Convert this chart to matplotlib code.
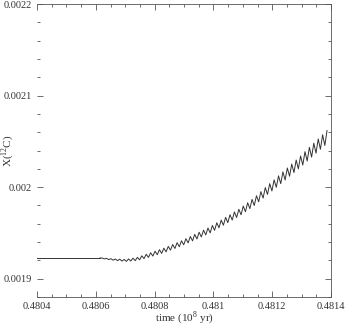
import matplotlib
matplotlib.use("Agg")
import matplotlib.pyplot as plt
from matplotlib.ticker import MultipleLocator, FixedLocator

# ---- data (time in 1e8 yr, X(12C) in units of 1e-6) ----
flat_time = [0.4804, 0.480614]
flat_x = [1922.6, 1922.6]

osc_time = [
    0.4806140, 0.4806215, 0.4806290, 0.4806365, 0.4806440, 0.4806515, 0.4806590, 0.4806665,
    0.4806740, 0.4806815, 0.4806890, 0.4806965, 0.4807040, 0.4807115, 0.4807190, 0.4807265,
    0.4807340, 0.4807415, 0.4807490, 0.4807565, 0.4807640, 0.4807715, 0.4807790, 0.4807865,
    0.4807940, 0.4808015, 0.4808090, 0.4808165, 0.4808240, 0.4808315, 0.4808390, 0.4808465,
    0.4808540, 0.4808615, 0.4808690, 0.4808765, 0.4808840, 0.4808915, 0.4808990, 0.4809065,
    0.4809140, 0.4809215, 0.4809290, 0.4809365, 0.4809440, 0.4809515, 0.4809590, 0.4809665,
    0.4809740, 0.4809815, 0.4809890, 0.4809965, 0.4810040, 0.4810115, 0.4810190, 0.4810265,
    0.4810340, 0.4810415, 0.4810490, 0.4810565, 0.4810640, 0.4810715, 0.4810790, 0.4810865,
    0.4810940, 0.4811015, 0.4811090, 0.4811165, 0.4811240, 0.4811315, 0.4811390, 0.4811465,
    0.4811540, 0.4811615, 0.4811690, 0.4811765, 0.4811840, 0.4811915, 0.4811990, 0.4812065,
    0.4812140, 0.4812215, 0.4812290, 0.4812365, 0.4812440, 0.4812515, 0.4812590, 0.4812665,
    0.4812740, 0.4812815, 0.4812890, 0.4812965, 0.4813040, 0.4813115, 0.4813190, 0.4813265,
    0.4813340, 0.4813415, 0.4813490, 0.4813565, 0.4813640, 0.4813715, 0.4813790, 0.4813865,
]
osc_x = [
    1922.6, 1922.6, 1921.6, 1922.2, 1920.9, 1921.8, 1920.2, 1921.5,
    1919.7, 1921.3, 1919.2, 1921.0, 1918.9, 1921.6, 1919.3, 1922.4,
    1919.7, 1923.3, 1920.6, 1925.0, 1921.9, 1926.7, 1923.2, 1928.3,
    1924.7, 1930.0, 1926.2, 1931.7, 1927.7, 1933.3, 1929.3, 1935.3,
    1931.2, 1937.3, 1933.0, 1939.3, 1934.9, 1941.4, 1937.0, 1943.7,
    1939.1, 1946.1, 1941.3, 1948.4, 1943.4, 1950.7, 1945.6, 1953.0,
    1947.8, 1955.4, 1950.0, 1958.1, 1952.8, 1961.1, 1955.6, 1964.0,
    1958.4, 1967.0, 1961.2, 1969.9, 1964.0, 1972.9, 1966.8, 1975.8,
    1969.8, 1979.3, 1973.1, 1983.0, 1976.5, 1986.6, 1979.9, 1990.6,
    1984.0, 1995.1, 1988.0, 1999.5, 1992.0, 2003.8, 1995.8, 2007.9,
    1999.8, 2012.3, 2003.8, 2016.6, 2007.8, 2020.9, 2011.9, 2025.2,
    2015.9, 2029.6, 2019.9, 2034.0, 2024.1, 2038.7, 2028.5, 2043.4,
    2032.8, 2048.0, 2037.1, 2052.6, 2041.3, 2057.2, 2045.5, 2061.8,
]

x_ticks = [0.4804, 0.4806, 0.4808, 0.481, 0.4812, 0.4814]
x_ticklabels = ["0.4804", "0.4806", "0.4808", "0.481", "0.4812", "0.4814"]
y_ticks = [0.0019, 0.002, 0.0021, 0.0022]
y_ticklabels = ["0.0019", "0.002", "0.0021", "0.0022"]

plt.rcParams['font.family'] = ['Liberation Serif', 'DejaVu Serif']
plt.rcParams['mathtext.fontset'] = 'custom'
plt.rcParams['mathtext.rm'] = 'Liberation Serif'

fig = plt.figure(figsize=(3.47, 3.27), dpi=100)
ax = fig.add_axes([37/347, 30/327, 294/347, 293/327])

axis_color = '#555555'
text_color = '#333333'

ax.plot(flat_time, [v * 1e-6 for v in flat_x], color='#333333', lw=0.7)
ax.plot(osc_time, [v * 1e-6 for v in osc_x], color='#333333', lw=0.7)

ax.set_xlim(0.4804, 0.4814)
ax.set_ylim(0.00188, 0.0022)

ax.xaxis.set_major_locator(FixedLocator(x_ticks))
ax.set_xticklabels(x_ticklabels)
ax.xaxis.set_minor_locator(MultipleLocator(0.00005))
ax.yaxis.set_major_locator(FixedLocator(y_ticks))
ax.set_yticklabels(y_ticklabels)
ax.yaxis.set_minor_locator(MultipleLocator(0.00002))

ax.tick_params(which='both', direction='in', top=True, right=True,
               color=axis_color, width=0.6, labelsize=7.5, labelcolor=text_color)
ax.tick_params(which='major', length=4.5, pad=3.5)
ax.tick_params(which='minor', length=2.2)

for side in ['top', 'right', 'bottom']:
    ax.spines[side].set_color(axis_color)
    ax.spines[side].set_linewidth(0.6)
ax.spines['left'].set_visible(False)

ax.set_xlabel(r'time (10$^{\mathrm{8}}$ yr)', fontsize=8, color=text_color, va='top')
ax.xaxis.set_label_coords(0.5, -0.042)
ax.set_ylabel(r'X($^{\mathrm{12}}$C)', fontsize=8, color=text_color)
ax.yaxis.set_label_coords(-0.072, 0.5)

fig.savefig('out.png', dpi=100)
